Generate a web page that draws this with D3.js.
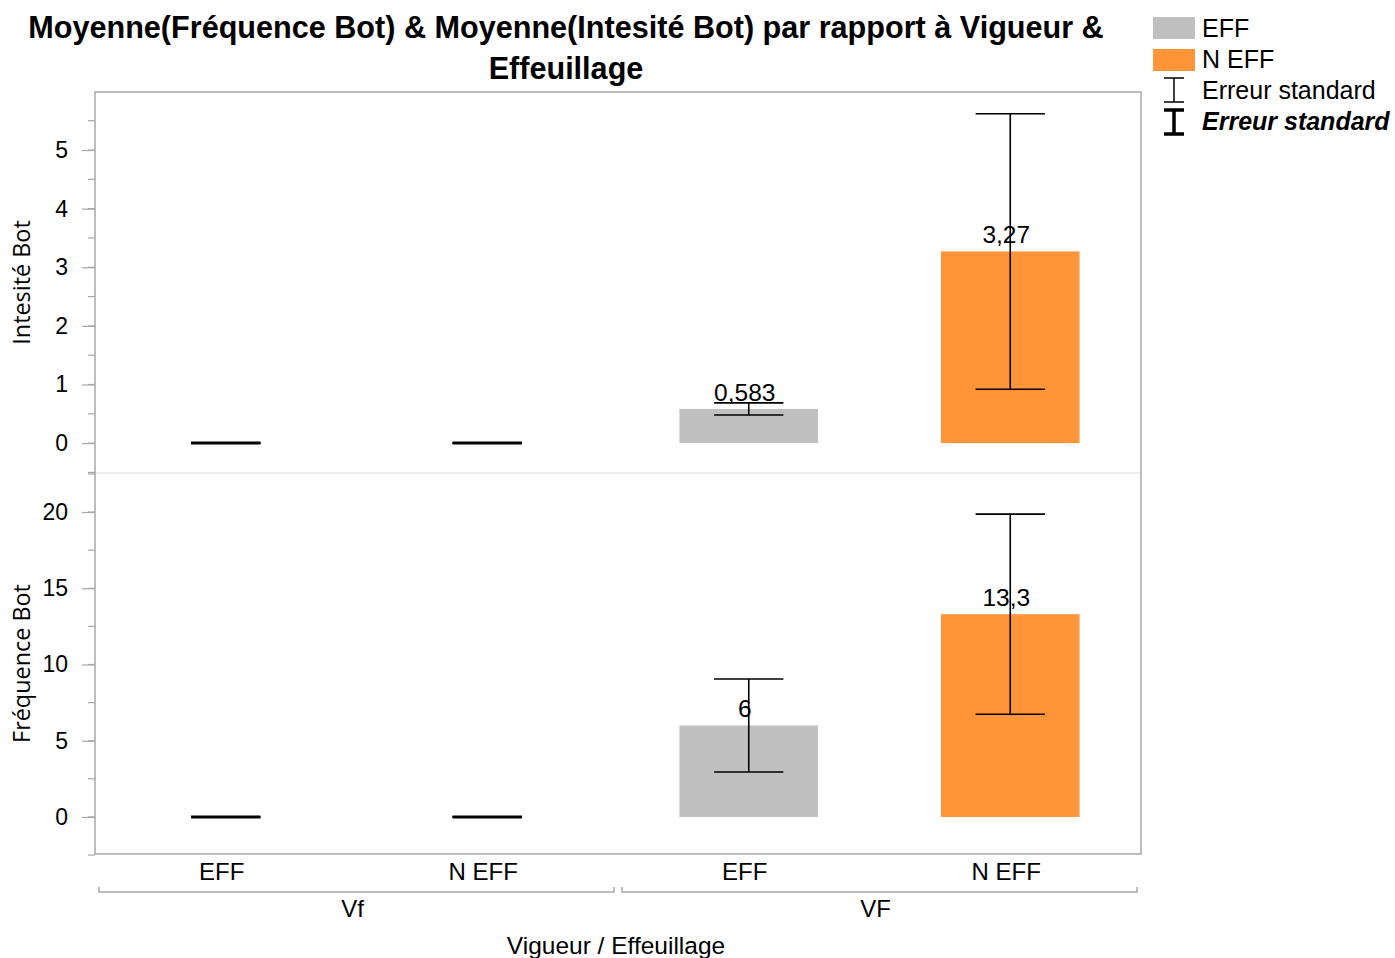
<!DOCTYPE html>
<html>
<head>
<meta charset="utf-8">
<script src="https://cdn.jsdelivr.net/npm/d3@7"></script>
<style>
  body { margin: 0; background: #fff; }
  svg { font-family: "Liberation Sans", Arial, sans-serif; }
</style>
</head>
<body>
<svg id="chart" width="1395" height="958"></svg>
<script>
// --- data ---
const groups = ["Vf", "VF"];
const levels = ["EFF", "N EFF"];
const intensiteMean = [0, 0, 0.583, 3.27];
const intensiteSE = [0, 0, 0.103, 2.35];
const frequenceMean = [0, 0, 6, 13.3];
const frequenceSE = [0, 0, 3.05, 6.56];
const intensiteTicks = [0, 1, 2, 3, 4, 5];
const frequenceTicks = [0, 5, 10, 15, 20];
const barLabels = [["", "", "0,583", "3,27"], ["", "", "6", "13,3"]];
const colors = { "EFF": "#c0c0c0", "N EFF": "#ff9439" };

// one row per bar
const rows = [];
groups.forEach((g) => levels.forEach((l) => rows.push({ group: g, level: l, key: g + "|" + l })));

const svg = d3.select("#chart");
const plotLeft = 95, plotRight = 1141, plotTop = 92, plotMid = 473, plotBottom = 854;
const textShift = -4; // labels sit a touch left of the bar centres

const x = d3.scaleBand().domain(rows.map((d) => d.key)).range([plotLeft, plotRight])
  .paddingInner(0.47).paddingOuter(0.235);

const panels = [
  {
    title: "Intesité Bot", mean: intensiteMean, se: intensiteSE, ticks: intensiteTicks, labels: barLabels[0],
    y: d3.scaleLinear().domain([-0.51, 5.99]).range([plotMid, plotTop]), minor: d3.range(-0.5, 6, 0.5),
  },
  {
    title: "Fréquence Bot", mean: frequenceMean, se: frequenceSE, ticks: frequenceTicks, labels: barLabels[1],
    y: d3.scaleLinear().domain([-2.43, 22.56]).range([plotBottom, plotMid]), minor: d3.range(-2.5, 23, 2.5),
  },
];

// title
svg.append("text").attr("x", 566).attr("y", 38).attr("text-anchor", "middle")
  .attr("font-size", 30.6).attr("font-weight", "bold")
  .text("Moyenne(Fréquence Bot) & Moyenne(Intesité Bot) par rapport à Vigueur &");
svg.append("text").attr("x", 566).attr("y", 79).attr("text-anchor", "middle")
  .attr("font-size", 30.6).attr("font-weight", "bold").text("Effeuillage");

panels.forEach((p) => {
  const y = p.y;
  // minor ticks
  svg.append("g").selectAll("line").data(p.minor).join("line")
    .attr("x1", 88).attr("x2", plotLeft).attr("y1", (d) => y(d)).attr("y2", (d) => y(d))
    .attr("stroke", "#a8a8a8").attr("stroke-width", 1.2);
  // major axis
  const ax = svg.append("g").attr("transform", `translate(${plotLeft},0)`)
    .call(d3.axisLeft(y).tickValues(p.ticks).tickFormat(d3.format("d"))
      .tickSize(13).tickPadding(14).tickSizeOuter(0));
  ax.select(".domain").remove();
  ax.selectAll(".tick line").attr("stroke", "#a8a8a8").attr("stroke-width", 1.2);
  ax.selectAll(".tick text").attr("font-size", 23).attr("fill", "#000")
    .attr("font-family", "Liberation Sans, Arial, sans-serif");

  // axis title
  const [r0, r1] = y.range();
  svg.append("text").attr("transform", `translate(30,${(r0 + r1) / 2}) rotate(-90)`)
    .attr("text-anchor", "middle").attr("font-size", 23.4).attr("font-family", "Open Sans, sans-serif")
    .text(p.title);

  // bars
  svg.append("g").selectAll("rect").data(rows).join("rect")
    .attr("x", (d) => x(d.key)).attr("width", x.bandwidth())
    .attr("y", (d, i) => y(p.mean[i])).attr("height", (d, i) => y(0) - y(p.mean[i]))
    .attr("fill", (d) => colors[d.level]);

  // error bars
  const capW = x.bandwidth() / 2;
  const eb = svg.append("g").attr("stroke", "#000").attr("stroke-width", 1.6);
  rows.forEach((d, i) => {
    const cx = x(d.key) + x.bandwidth() / 2;
    const hi = y(p.mean[i] + p.se[i]), lo = y(p.mean[i] - p.se[i]);
    eb.append("line").attr("x1", cx).attr("x2", cx).attr("y1", hi).attr("y2", lo);
    eb.append("line").attr("x1", cx - capW / 2).attr("x2", cx + capW / 2).attr("y1", hi).attr("y2", hi);
    eb.append("line").attr("x1", cx - capW / 2).attr("x2", cx + capW / 2).attr("y1", lo).attr("y2", lo);
    if (p.mean[i] === 0) {
      eb.append("line").attr("x1", cx - capW / 2).attr("x2", cx + capW / 2).attr("y1", hi).attr("y2", hi)
        .attr("stroke-width", 3);
    }
  });

  // value labels
  svg.append("g").selectAll("text").data(rows).join("text")
    .attr("x", (d) => x(d.key) + x.bandwidth() / 2 + textShift)
    .attr("y", (d, i) => y(p.mean[i]) - 8)
    .attr("text-anchor", "middle").attr("font-size", 24.5)
    .text((d, i) => p.labels[i]);
});

// frame and divider
svg.append("line").attr("x1", plotLeft).attr("x2", plotRight).attr("y1", plotMid).attr("y2", plotMid)
  .attr("stroke", "#dcdcdc").attr("stroke-width", 1);
svg.append("rect").attr("x", plotLeft).attr("y", plotTop).attr("width", plotRight - plotLeft)
  .attr("height", plotBottom - plotTop)
  .attr("fill", "none").attr("stroke", "#a8a8a8").attr("stroke-width", 1.5);

// x axis category labels
svg.append("g").selectAll("text").data(rows).join("text")
  .attr("x", (d) => x(d.key) + x.bandwidth() / 2 + textShift).attr("y", 880)
  .attr("text-anchor", "middle").attr("font-size", 24).text((d) => d.level);

// group brackets
const gw = (plotRight - plotLeft) / groups.length;
groups.forEach((g, i) => {
  const x0 = plotLeft + i * gw + 4, x1 = plotLeft + (i + 1) * gw - 4;
  svg.append("path").attr("d", `M${x0},887V892H${x1}V887`)
    .attr("fill", "none").attr("stroke", "#a8a8a8").attr("stroke-width", 1.5);
  svg.append("text").attr("x", (x0 + x1) / 2 + textShift).attr("y", 917).attr("text-anchor", "middle")
    .attr("font-size", 24).text(g);
});

svg.append("text").attr("x", 616).attr("y", 954).attr("text-anchor", "middle")
  .attr("font-size", 24.5).text("Vigueur / Effeuillage");

// legend
const lg = svg.append("g");
levels.forEach((l, i) => {
  lg.append("rect").attr("x", 1153).attr("y", 17 + i * 32).attr("width", 42).attr("height", 22)
    .attr("fill", colors[l]);
  lg.append("text").attr("x", 1202).attr("y", 36.5 + i * 31.5).attr("font-size", 25).text(l);
});
[{ w: 1.5, y0: 78, y1: 102, style: "normal", weight: "normal", ty: 99 },
 { w: 3.5, y0: 110, y1: 134, style: "italic", weight: "bold", ty: 130 }].forEach((e) => {
  lg.append("path").attr("d", `M1164,${e.y0}H1184M1174,${e.y0}V${e.y1}M1164,${e.y1}H1184`)
    .attr("stroke", "#000").attr("stroke-width", e.w).attr("fill", "none");
  lg.append("text").attr("x", 1202).attr("y", e.ty).attr("font-size", 25)
    .attr("font-style", e.style).attr("font-weight", e.weight).text("Erreur standard");
});
</script>
</body>
</html>
